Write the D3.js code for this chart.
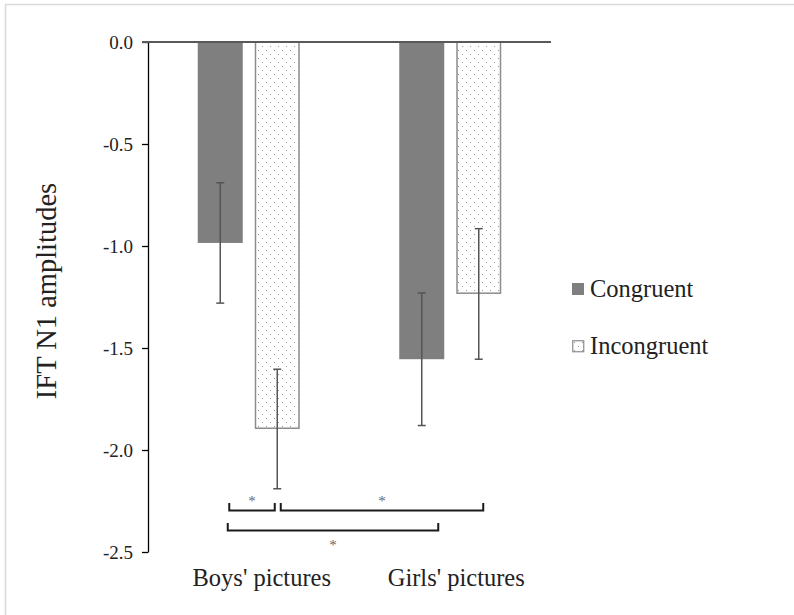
<!DOCTYPE html>
<html>
<head>
<meta charset="utf-8">
<script src="https://d3js.org/d3.v7.min.js"></script>
<style>
  body { margin: 0; background: #fff; }
  svg text { font-family: "Liberation Serif", "Times New Roman", serif !important; }
</style>
</head>
<body>
<script>
const categories = ["Boys' pictures", "Girls' pictures"];
const series = ["Congruent", "Incongruent"];
const congruent = [-0.985, -1.555];
const incongruent = [-1.897, -1.235];
const congruentErr = [0.295, 0.325];
const incongruentErr = [0.293, 0.32];
const yTicks = [0, -0.5, -1.0, -1.5, -2.0, -2.5];

// significance brackets: [category, series] at each end
const sigPairs = [
  { a: [0, 0], b: [0, 1], row: 0 },
  { a: [0, 1], b: [1, 1], row: 0 },
  { a: [0, 0], b: [1, 0], row: 1 }
];

const W = 794, H = 615;
const svg = d3.select("body").append("svg")
  .attr("width", W)
  .attr("height", H);

const defs = svg.append("defs");
const pat = defs.append("pattern")
  .attr("id", "dots")
  .attr("patternUnits", "userSpaceOnUse")
  .attr("width", 8)
  .attr("height", 8);
pat.append("rect").attr("width", 8).attr("height", 8).attr("fill", "#fff");
pat.append("rect").attr("x", 2).attr("y", 2).attr("width", 1).attr("height", 1).attr("fill", "#999");
pat.append("rect").attr("x", 6).attr("y", 6).attr("width", 1).attr("height", 1).attr("fill", "#999");

// frame
svg.append("rect")
  .attr("x", 5.5).attr("y", 4.5)
  .attr("width", W + 10).attr("height", H + 10)
  .attr("fill", "none")
  .attr("stroke", "#d9d9d9")
  .attr("stroke-width", 1.5);

const mLeft = 148, mRight = 551, mTop = 42, mBottom = 552;

const x0 = d3.scaleBand().domain(categories).range([mLeft, mRight]);
const x1 = d3.scaleBand().domain(series).range([0, 102]).paddingInner(12 / 57);
const y = d3.scaleLinear().domain([-2.5, 0]).range([mBottom, mTop]);

const groupOff = (x0.bandwidth() - 102) / 2;
const barX = (ci, si) => x0(categories[ci]) + groupOff + x1(series[si]);
const barMid = (ci, si) => barX(ci, si) + x1.bandwidth() / 2;

// y axis
const yAxis = svg.append("g")
  .attr("transform", "translate(" + mLeft + ",0)")
  .call(d3.axisLeft(y).tickValues(yTicks).tickSize(6).tickSizeOuter(0));
yAxis.attr("font-family", null);
yAxis.select(".domain").attr("stroke", "#000").attr("stroke-width", 1.3);
yAxis.selectAll(".tick line").attr("stroke", "#000").attr("stroke-width", 1.3);
yAxis.selectAll(".tick text")
  .attr("x", -15)
  .attr("dy", "0.34em")
  .attr("font-size", "19px")
  .attr("fill", "#222")
  .text(d => d3.format(".1f")(d).replace("−", "-"));

svg.append("text")
  .attr("transform", "translate(56," + ((mTop + mBottom) / 2 - 6) + ") rotate(-90)")
  .attr("text-anchor", "middle")
  .attr("font-size", "28.5px")
  .attr("fill", "#222")
  .text("IFT N1 amplitudes");

// bars
const rows = [];
categories.forEach((c, ci) => {
  rows.push({ ci: ci, si: 0, v: congruent[ci], e: congruentErr[ci] });
  rows.push({ ci: ci, si: 1, v: incongruent[ci], e: incongruentErr[ci] });
});

svg.selectAll(".bar")
  .data(rows)
  .enter().append("rect")
  .attr("class", "bar")
  .attr("x", d => barX(d.ci, d.si) + (d.si === 1 ? 0.75 : 0))
  .attr("y", y(0))
  .attr("width", d => x1.bandwidth() - (d.si === 1 ? 1.5 : 0))
  .attr("height", d => y(d.v) - y(0) - (d.si === 1 ? 0.75 : 0))
  .attr("fill", d => d.si === 0 ? "#7f7f7f" : "url(#dots)")
  .attr("stroke", d => d.si === 0 ? "none" : "#8c8c8c")
  .attr("stroke-width", 1.5);

// zero line
svg.append("line")
  .attr("x1", mLeft - 6).attr("x2", mRight)
  .attr("y1", y(0)).attr("y2", y(0))
  .attr("stroke", "#595959")
  .attr("stroke-width", 2);

// error bars
const eb = svg.selectAll(".err").data(rows).enter().append("g").attr("class", "err")
  .attr("stroke", "#555").attr("stroke-width", 1.5);
eb.append("line")
  .attr("x1", d => barMid(d.ci, d.si)).attr("x2", d => barMid(d.ci, d.si))
  .attr("y1", d => y(d.v + d.e)).attr("y2", d => y(d.v - d.e));
eb.append("line")
  .attr("x1", d => barMid(d.ci, d.si) - 4).attr("x2", d => barMid(d.ci, d.si) + 4)
  .attr("y1", d => y(d.v + d.e)).attr("y2", d => y(d.v + d.e));
eb.append("line")
  .attr("x1", d => barMid(d.ci, d.si) - 4).attr("x2", d => barMid(d.ci, d.si) + 4)
  .attr("y1", d => y(d.v - d.e)).attr("y2", d => y(d.v - d.e));

// category labels
svg.selectAll(".cat")
  .data(categories)
  .enter().append("text")
  .attr("class", "cat")
  .attr("x", (d, i) => x0(d) + x0.bandwidth() / 2 + (i === 0 ? 13 : 6))
  .attr("y", 586)
  .attr("text-anchor", "middle")
  .attr("font-size", "24.5px")
  .attr("fill", "#222")
  .text(d => d);

// significance brackets (hand-placed insets relative to bar centres)
const inset = [[9, -2.5], [3.5, 4.5], [7.5, 16.5]];
const rowTop = [503, 523], rowBot = [510.5, 530.5];
const sig = svg.selectAll(".sig").data(sigPairs).enter().append("g").attr("class", "sig");
const bx1 = (d, i) => barMid(d.a[0], d.a[1]) + inset[i][0];
const bx2 = (d, i) => barMid(d.b[0], d.b[1]) + inset[i][1];
sig.append("path")
  .attr("d", (d, i) => {
    const a = bx1(d, i), b = bx2(d, i);
    return "M" + a + "," + rowTop[d.row] + "V" + rowBot[d.row] + "H" + b + "V" + rowTop[d.row];
  })
  .attr("fill", "none")
  .attr("stroke", "#1a1a1a")
  .attr("stroke-width", 2);
sig.append("text")
  .attr("x", (d, i) => (bx1(d, i) + bx2(d, i)) / 2)
  .attr("y", d => d.row === 0 ? 506 : 550)
  .attr("text-anchor", "middle")
  .attr("font-size", "15px")
  .attr("fill", "#6a6a6a")
  .text("*");

// legend
const leg = svg.selectAll(".leg").data(series).enter().append("g")
  .attr("class", "leg")
  .attr("transform", (d, i) => "translate(572," + (283 + i * 57) + ")");
leg.append("rect")
  .attr("x", (d, i) => i === 0 ? 0 : 0.75)
  .attr("y", (d, i) => i === 0 ? 0 : 0.75)
  .attr("width", (d, i) => i === 0 ? 12 : 11)
  .attr("height", (d, i) => i === 0 ? 12 : 11)
  .attr("fill", (d, i) => i === 0 ? "#7f7f7f" : "url(#dots)")
  .attr("stroke", (d, i) => i === 0 ? "none" : "#8c8c8c")
  .attr("stroke-width", 1.2);
leg.append("text")
  .attr("x", 18)
  .attr("y", 14)
  .attr("font-size", "24.5px")
  .attr("fill", "#222")
  .text(d => d);
</script>
</body>
</html>
